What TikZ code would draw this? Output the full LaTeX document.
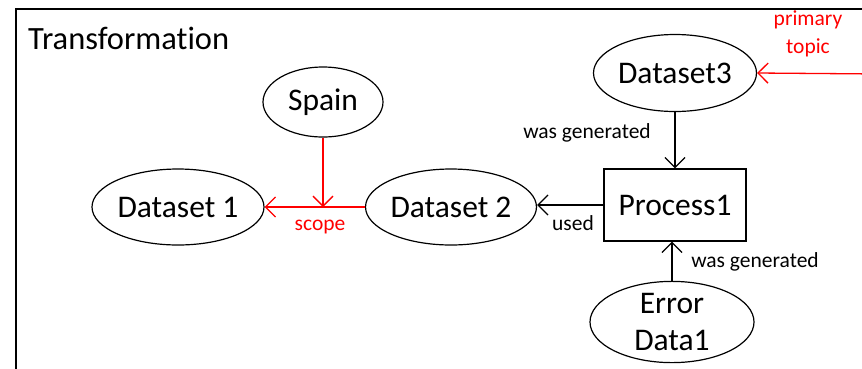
\documentclass[tikz,border=0pt]{standalone}
\usepackage{fontspec}
\setmainfont{Carlito}[Ligatures=NoCommon]
\usetikzlibrary{arrows.meta,shapes.geometric}
\tikzset{
  ent/.style={ellipse, draw, line width=1.2pt, inner sep=0pt, font=\fontsize{31.5}{37}\selectfont, align=center},
  proc/.style={rectangle, draw, line width=1.2pt, inner sep=0pt, font=\fontsize{31.5}{37}\selectfont},
  rel/.style={line width=1.3pt, -{Straight Barb[length=10pt,width=20pt,line width=1.3pt]}},
  redrel/.style={rel, red},
  lbl/.style={font=\fontsize{21.5}{28}\selectfont, inner sep=0pt, align=center},
  redlbl/.style={lbl, text=red}
}
\begin{document}
\begin{tikzpicture}[x=1pt,y=-1pt]
\useasboundingbox (0,0) rectangle (862,368);
\clip (0,0) rectangle (862,368);
% enclosing frame (continues past the right and bottom edges)
\draw[line width=1.2pt] (16,9) rectangle (900,420);
\node[anchor=base west, font=\fontsize{32.5}{37}\selectfont, inner sep=0pt] (title) at (28,49) {Transformation};

% entities
\node[ent, minimum width=120pt, minimum height=70pt] (spain) at (323,102) {Spain};
\node[ent, minimum width=172pt, minimum height=76pt] (d1) at (178,207) {Dataset 1};
\node[ent, minimum width=170pt, minimum height=76pt] (d2) at (451,207) {Dataset 2};
\node[proc, minimum width=142pt, minimum height=72pt] (p1) at (675,205) {Process1};
\node[ent, minimum width=163pt, minimum height=77pt] (d3) at (675,73) {Dataset3};
\node[ent, minimum width=164pt, minimum height=75pt] (err) at (672,322) {Error\\Data1};

% connectors
\coordinate (ptsrc) at (880,74);
\coordinate (scopejoin) at (spain.south |- d1.east);
\draw[redrel] (d2.west) -- (d1.east);
\draw[redrel] (spain.south) -- (scopejoin);
\draw[redrel] (ptsrc) -- (d3.east);
\draw[rel] (p1.west) -- (p1.west -| d2.east);
\draw[rel] (d3.south -| p1.north) -- (p1.north);
\draw[rel] (err.north) -- (err.north |- p1.south);

% labels
\node[redlbl] (lscope) at (320,227) {scope};
\node[redlbl] (lpt) at (808,34) {primary\\topic};
\node[lbl] (lgen1) at (587,133) {was generated};
\node[lbl] (lused) at (573,223) {used};
\node[lbl] (lgen2) at (755,262) {was generated};
\end{tikzpicture}
\end{document}
